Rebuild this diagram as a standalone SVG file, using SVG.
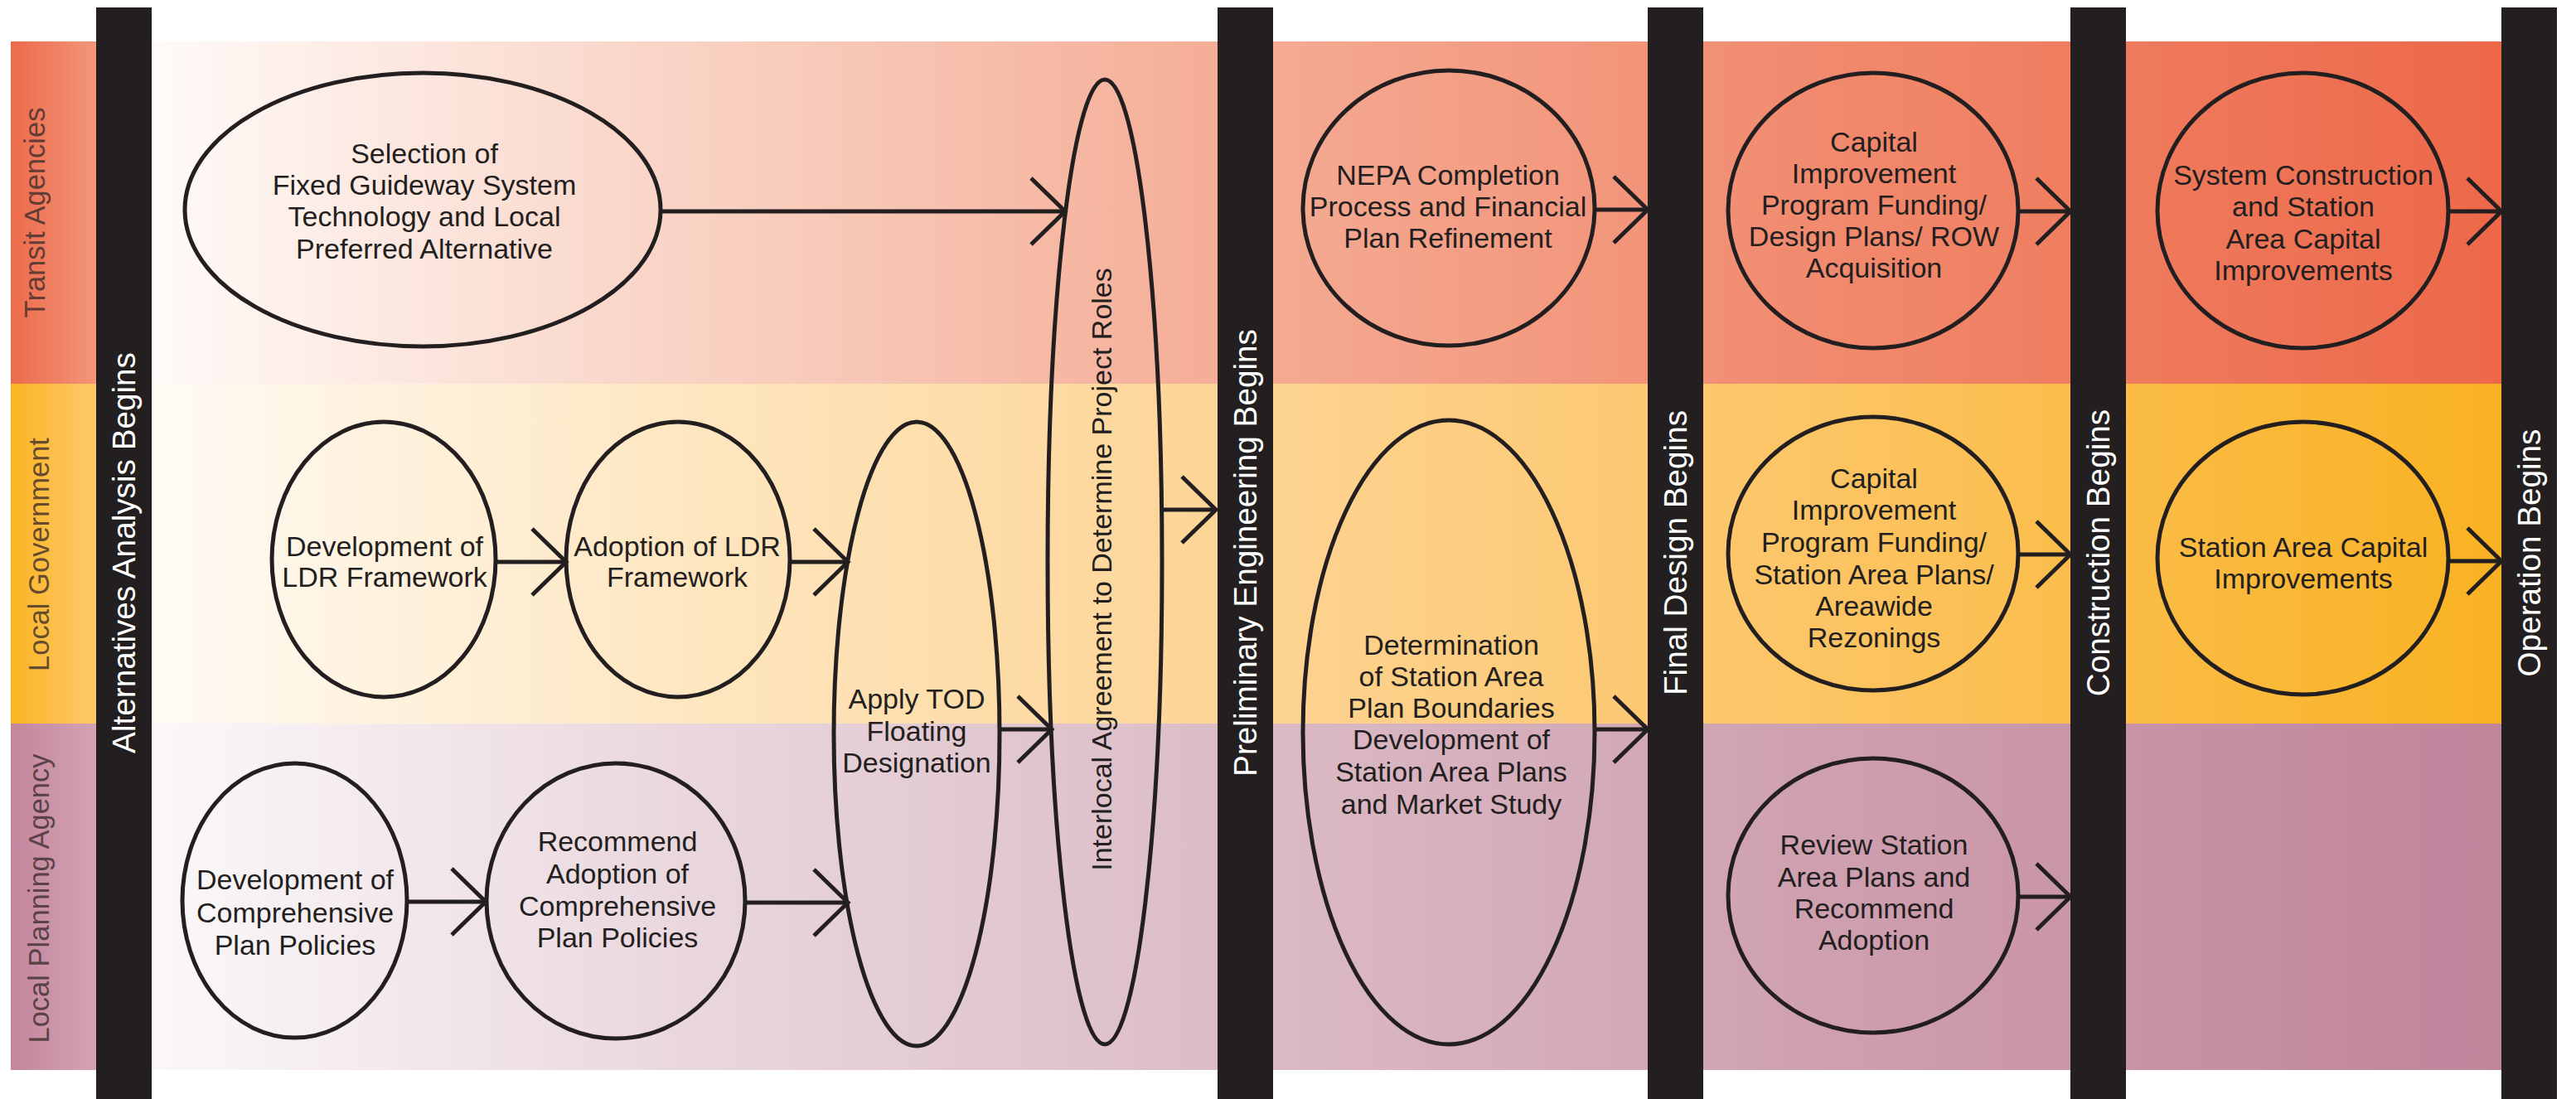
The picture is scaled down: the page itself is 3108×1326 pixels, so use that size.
<svg xmlns="http://www.w3.org/2000/svg" width="3108" height="1326" viewBox="0 0 3108 1326">
<defs>
<linearGradient id="gT" x1="0" y1="0" x2="1" y2="0">
<stop offset="0" stop-color="#fffaf8"/><stop offset="0.22" stop-color="#f9d4c6"/><stop offset="0.45" stop-color="#f5ae97"/><stop offset="0.7" stop-color="#f18b6f"/><stop offset="1" stop-color="#ed6849"/>
</linearGradient>
<linearGradient id="gY" x1="0" y1="0" x2="1" y2="0">
<stop offset="0" stop-color="#fffbf5"/><stop offset="0.22" stop-color="#fee7c2"/><stop offset="0.45" stop-color="#fdd597"/><stop offset="0.7" stop-color="#fcc566"/><stop offset="1" stop-color="#f9b222"/>
</linearGradient>
<linearGradient id="gP" x1="0" y1="0" x2="1" y2="0">
<stop offset="0" stop-color="#fbf8f9"/><stop offset="0.22" stop-color="#ead8de"/><stop offset="0.45" stop-color="#dcbdc7"/><stop offset="0.7" stop-color="#cfa1b0"/><stop offset="1" stop-color="#c0849b"/>
</linearGradient>
<linearGradient id="lT" x1="0" y1="0" x2="1" y2="0"><stop offset="0" stop-color="#ed6a4b"/><stop offset="1" stop-color="#f39679"/></linearGradient>
<linearGradient id="lY" x1="0" y1="0" x2="1" y2="0"><stop offset="0" stop-color="#fbb423"/><stop offset="1" stop-color="#fdc96b"/></linearGradient>
<linearGradient id="lP" x1="0" y1="0" x2="1" y2="0"><stop offset="0" stop-color="#c3859d"/><stop offset="1" stop-color="#d4a3b3"/></linearGradient>
<marker id="arr" markerUnits="userSpaceOnUse" viewBox="-46 -45 50 90" markerWidth="50" markerHeight="90" refX="0" refY="0" orient="auto" overflow="visible">
<path d="M-41,-40 L0,0 L-41,40" fill="none" stroke="#231f20" stroke-width="5"/>
</marker>
<style>
.node ellipse{fill:none;stroke:#231f20;stroke-width:5}
.node text{font-family:"Liberation Sans",Arial,sans-serif;font-size:34px;fill:#231f20;text-anchor:middle}
.bar rect{fill:#231f20}
.bar text{font-family:"Liberation Sans",Arial,sans-serif;font-size:38.7px;fill:#ffffff;text-anchor:middle}
.lane text{font-family:"Liberation Sans",Arial,sans-serif;font-size:34.5px;fill:#3b2c2b;fill-opacity:0.78;text-anchor:middle}
#connectors line{stroke:#231f20;stroke-width:5;marker-end:url(#arr)}
</style>
</defs>
<rect width="3108" height="1326" fill="#ffffff"/>
<g id="lanes">
<g id="lane-transit" class="lane">
<rect x="183" y="50" width="2835" height="413" fill="url(#gT)"/>
<rect x="13" y="50" width="103" height="413" fill="url(#lT)"/>
<text x="54" y="256.5" transform="rotate(-90 54 256.5)">Transit Agencies</text>
</g>
<g id="lane-localgov" class="lane">
<rect x="183" y="463" width="2835" height="410" fill="url(#gY)"/>
<rect x="13" y="463" width="103" height="410" fill="url(#lY)"/>
<text x="59" y="669" transform="rotate(-90 59 669)">Local Government</text>
</g>
<g id="lane-planning" class="lane">
<rect x="183" y="873" width="2835" height="418" fill="url(#gP)"/>
<rect x="13" y="873" width="103" height="418" fill="url(#lP)"/>
<text x="59" y="1084" transform="rotate(-90 59 1084)">Local Planning Agency</text>
</g>
</g>
<g id="phase-alternatives" class="bar"><rect x="116" y="9" width="67" height="1317"/><text x="163" y="667" transform="rotate(-90 163 667)">Alternatives Analysis Begins</text></g>
<g id="phase-preliminary" class="bar"><rect x="1469" y="9" width="67" height="1317"/><text x="1516" y="667" transform="rotate(-90 1516 667)">Preliminary Engineering Begins</text></g>
<g id="phase-final" class="bar"><rect x="1988" y="9" width="67" height="1317"/><text x="2035" y="667" transform="rotate(-90 2035 667)">Final Design Begins</text></g>
<g id="phase-construction" class="bar"><rect x="2498" y="9" width="67" height="1317"/><text x="2545" y="667" transform="rotate(-90 2545 667)">Construction Begins</text></g>
<g id="phase-operation" class="bar"><rect x="3018" y="9" width="67" height="1317"/><text x="3065" y="667" transform="rotate(-90 3065 667)">Operation Begins</text></g>

<g id="node-selection" class="node"><ellipse cx="510" cy="253" rx="287" ry="165"/>
<text x="512" y="197">Selection of</text><text x="512" y="235">Fixed Guideway System</text><text x="512" y="273">Technology and Local</text><text x="512" y="312">Preferred Alternative</text></g>
<g id="node-dev-ldr" class="node"><ellipse cx="463" cy="675" rx="135" ry="166"/>
<text x="464" y="671">Development of</text><text x="464" y="708">LDR Framework</text></g>
<g id="node-adopt-ldr" class="node"><ellipse cx="818" cy="675" rx="135" ry="166"/>
<text x="817" y="671">Adoption of LDR</text><text x="817" y="708">Framework</text></g>
<g id="node-dev-comp" class="node"><ellipse cx="355.5" cy="1086.5" rx="135.5" ry="165.5"/>
<text x="356" y="1073">Development of</text><text x="356" y="1113">Comprehensive</text><text x="356" y="1152">Plan Policies</text></g>
<g id="node-recommend" class="node"><ellipse cx="743" cy="1087" rx="156" ry="166"/>
<text x="745" y="1027">Recommend</text><text x="745" y="1066">Adoption of</text><text x="745" y="1105">Comprehensive</text><text x="745" y="1143">Plan Policies</text></g>
<g id="node-apply-tod" class="node"><ellipse cx="1106" cy="885.5" rx="100" ry="376.5"/>
<text x="1106" y="855">Apply TOD</text><text x="1106" y="893.5">Floating</text><text x="1106" y="932">Designation</text></g>
<g id="node-interlocal" class="node"><ellipse cx="1333" cy="678" rx="69" ry="582"/>
<text x="1341" y="687" transform="rotate(-90 1341 687)">Interlocal Agreement to Determine Project Roles</text></g>
<g id="node-nepa" class="node"><ellipse cx="1748" cy="251" rx="176" ry="166"/>
<text x="1747" y="223">NEPA Completion</text><text x="1747" y="261">Process and Financial</text><text x="1747" y="299">Plan Refinement</text></g>
<g id="node-determination" class="node"><ellipse cx="1748" cy="883.5" rx="176" ry="376.5"/>
<text x="1751" y="790">Determination</text><text x="1751" y="828">of Station Area</text><text x="1751" y="866">Plan Boundaries</text><text x="1751" y="904">Development of</text><text x="1751" y="943">Station Area Plans</text><text x="1751" y="982">and Market Study</text></g>
<g id="node-cip-transit" class="node"><ellipse cx="2260" cy="254" rx="175" ry="166"/>
<text x="2261" y="183">Capital</text><text x="2261" y="221">Improvement</text><text x="2261" y="259">Program Funding/</text><text x="2261" y="297">Design Plans/ ROW</text><text x="2261" y="335">Acquisition</text></g>
<g id="node-cip-local" class="node"><ellipse cx="2260" cy="668" rx="175" ry="165"/>
<text x="2261" y="589">Capital</text><text x="2261" y="627">Improvement</text><text x="2261" y="666">Program Funding/</text><text x="2261" y="705">Station Area Plans/</text><text x="2261" y="743">Areawide</text><text x="2261" y="781">Rezonings</text></g>
<g id="node-review" class="node"><ellipse cx="2260" cy="1080.5" rx="175" ry="165.5"/>
<text x="2261" y="1031">Review Station</text><text x="2261" y="1070">Area Plans and</text><text x="2261" y="1108">Recommend</text><text x="2261" y="1146">Adoption</text></g>
<g id="node-system-construction" class="node"><ellipse cx="2778.5" cy="254" rx="175.5" ry="166"/>
<text x="2779" y="223">System Construction</text><text x="2779" y="261">and Station</text><text x="2779" y="300">Area Capital</text><text x="2779" y="338">Improvements</text></g>
<g id="node-station-capital" class="node"><ellipse cx="2778.5" cy="673.5" rx="175.5" ry="164.5"/>
<text x="2779" y="672">Station Area Capital</text><text x="2779" y="710">Improvements</text></g>

<g id="connectors">
<line x1="797" y1="255" x2="1285" y2="255"/>
<line x1="598" y1="678" x2="683" y2="678"/>
<line x1="953" y1="678" x2="1023" y2="678"/>
<line x1="491" y1="1088" x2="586" y2="1088"/>
<line x1="899" y1="1089" x2="1023" y2="1089"/>
<line x1="1206" y1="880" x2="1269" y2="880"/>
<line x1="1402" y1="615" x2="1467" y2="615"/>
<line x1="1924" y1="253" x2="1988" y2="253"/>
<line x1="1924" y1="880" x2="1988" y2="880"/>
<line x1="2435" y1="255" x2="2498" y2="255"/>
<line x1="2435" y1="669" x2="2498" y2="669"/>
<line x1="2435" y1="1082" x2="2498" y2="1082"/>
<line x1="2954" y1="255" x2="3018" y2="255"/>
<line x1="2954" y1="677" x2="3018" y2="677"/>
</g>
</svg>
